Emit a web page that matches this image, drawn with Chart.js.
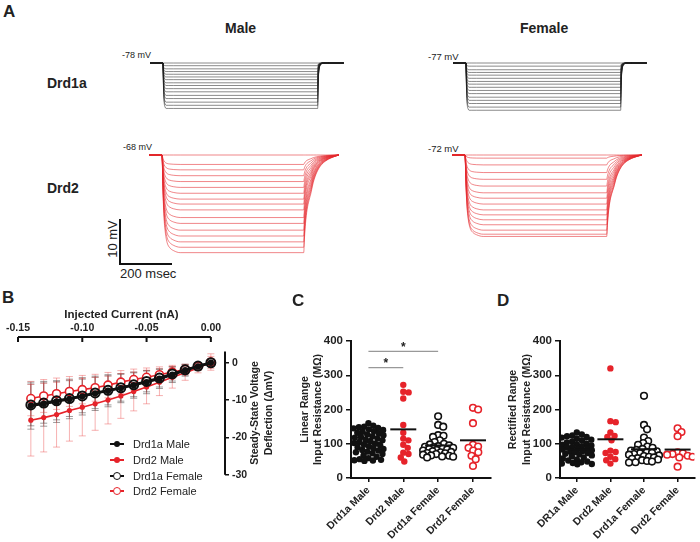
<!DOCTYPE html>
<html>
<head>
<meta charset="utf-8">
<script src="https://cdn.jsdelivr.net/npm/chart.js@4.4.1/dist/chart.umd.min.js"></script>
<style>
body { margin: 0; background: #fff; width: 700px; height: 542px; position: relative; overflow: hidden; font-family: "Liberation Sans", Arial, sans-serif; color: #222; }
canvas { position: absolute; }
.t { position: absolute; white-space: nowrap; line-height: 1; }
.b { font-weight: bold; }
.rot { transform: translate(-50%, -50%) rotate(-90deg); text-align: center; }
.bar { position: absolute; background: #111; }
.leg { position: absolute; left: 110px; height: 12px; width: 100px; }
.leg .ln { position: absolute; left: 0; top: 5px; width: 14px; height: 2px; }
.leg .pt { position: absolute; border-radius: 50%; box-sizing: border-box; }
.leg span { position: absolute; left: 23px; top: 0; font-size: 11px; line-height: 12px; }
</style>
</head>
<body>

<!-- panel A labels -->
<div class="t b" style="left:3px;top:3px;font-size:17px">A</div>
<div class="t b" style="left:225px;top:21px;font-size:14px">Male</div>
<div class="t b" style="left:520px;top:21px;font-size:14px">Female</div>
<div class="t b" style="left:47px;top:76px;font-size:14px">Drd1a</div>
<div class="t b" style="left:47px;top:181px;font-size:14px">Drd2</div>
<div class="t" style="left:122px;top:51px;font-size:9px">-78 mV</div>
<div class="t" style="left:428px;top:52px;font-size:9.5px">-77 mV</div>
<div class="t" style="left:123px;top:143px;font-size:9px">-68 mV</div>
<div class="t" style="left:428px;top:144px;font-size:9.5px">-72 mV</div>
<div class="t rot" style="left:111.5px;top:238.5px;font-size:13px">10 mV</div>
<div class="t" style="left:120px;top:267px;font-size:13px">200 msec</div>
<div class="bar" style="left:119px;top:219px;width:2px;height:46px"></div>
<div class="bar" style="left:119px;top:263px;width:53px;height:2px"></div>

<canvas id="a1" width="195" height="64" style="left:150px;top:54px"></canvas>
<canvas id="a2" width="195" height="64" style="left:453px;top:54px"></canvas>
<canvas id="a3" width="195" height="112" style="left:149px;top:146px"></canvas>
<canvas id="a4" width="195" height="112" style="left:452px;top:146px"></canvas>

<!-- panel B -->
<div class="t b" style="left:2px;top:289px;font-size:17px">B</div>
<canvas id="cb" width="255" height="189" style="left:0px;top:295px"></canvas>
<div class="t b rot" style="left:261px;top:413px;font-size:10.5px;line-height:14px">Steady-State Voltage<br>Deflection (&Delta;mV)</div>
<div class="leg" style="top:438px"><div class="ln" style="background:#111"></div><div class="pt" style="left:4px;top:3px;width:6px;height:6px;background:#111"></div><span>Drd1a Male</span></div>
<div class="leg" style="top:454px"><div class="ln" style="background:#e6232a"></div><div class="pt" style="left:4px;top:3px;width:6px;height:6px;background:#e6232a"></div><span>Drd2 Male</span></div>
<div class="leg" style="top:470px"><div class="ln" style="background:#111"></div><div class="pt" style="left:3px;top:2px;width:8px;height:8px;border:1.6px solid #111;background:#fff"></div><span>Drd1a Female</span></div>
<div class="leg" style="top:485px"><div class="ln" style="background:#e6232a"></div><div class="pt" style="left:3px;top:2px;width:8px;height:8px;border:1.6px solid #e6232a;background:#fff"></div><span>Drd2 Female</span></div>

<!-- panels C, D -->
<div class="t b" style="left:292px;top:292px;font-size:17px">C</div>
<div class="t b" style="left:497px;top:292px;font-size:17px">D</div>
<canvas id="cc" width="201" height="211" style="left:295px;top:331px"></canvas>
<canvas id="cd" width="198" height="211" style="left:502px;top:331px"></canvas>

<script>
// ---------- Panel A: representative voltage traces ----------
const d1Times = [0, 50, 51.5, 53, 55, 58, 62, 70, 90, 645, 646.5, 648, 651, 655, 661, 670, 685, 745];
const d1Shape = [0, 0, 0.45, 0.75, 0.9, 0.97, 1, 1, 1, 1, 0.55, 0.3, 0.12, 0.05, 0.01, 0, 0, 0];
const d2Times = [0, 50, 54, 58, 63, 70, 80, 95, 120, 595, 598, 602, 608, 615, 622, 632, 645, 660, 680, 700, 730];
const d2Shape = [0, 0, 0.4, 0.65, 0.8, 0.9, 0.95, 0.98, 1, 1, 0.85, 0.7, 0.56, 0.47, 0.4, 0.28, 0.18, 0.11, 0.06, 0.03, 0];

const d1MaleLevels = [0, -0.6, -1.3, -1.9, -2.5, -3.1, -3.7, -4.4, -5.0, -5.7, -6.4, -7.2, -7.9, -8.7, -9.4, -10.1];
const d1FemaleLevels = [0, -0.7, -1.5, -2.1, -2.7, -3.4, -4.1, -4.7, -5.4, -6.1, -6.8, -7.6, -8.3, -9.0, -9.8, -10.5];
const d2MaleLevels = [0, -2.1, -3.3, -4.6, -5.9, -7.2, -8.5, -9.8, -10.9, -12.2, -13.9, -15.2, -16.7, -18.0, -19.3, -20.5, -21.7];
const d2FemaleLevels = [0, -0.7, -2.2, -3.9, -5.4, -6.9, -8.4, -9.6, -10.9, -12.2, -13.3, -14.4, -15.5, -16.7, -17.6, -18.1];

// ---------- Panel B: I-V relationship ----------
const currents = [-0.14, -0.13, -0.12, -0.11, -0.10, -0.09, -0.08, -0.07, -0.06, -0.05, -0.04, -0.03, -0.02, -0.01, 0.00];
const d1MaleV = [-11.5, -11.0, -10.4, -9.7, -9.0, -8.2, -7.5, -6.8, -6.0, -5.2, -4.3, -3.2, -2.0, -1.0, 0];
const d1MaleErr = [6.3, 6.0, 5.6, 5.3, 5.0, 4.6, 4.3, 3.9, 3.5, 3.1, 2.6, 2.1, 1.6, 1.0, 0.6];
const d1FemaleV = [-11.3, -10.8, -10.2, -9.6, -8.9, -8.1, -7.4, -6.7, -5.9, -5.0, -4.1, -3.0, -1.9, -0.9, 0];
const d1FemaleErr = [5.6, 5.4, 5.1, 4.8, 4.5, 4.2, 3.9, 3.6, 3.2, 2.8, 2.4, 1.9, 1.4, 0.9, 0.6];
const d2MaleV = [-15.4, -14.7, -13.9, -12.8, -11.9, -11.0, -10.0, -8.9, -7.7, -6.5, -5.2, -3.9, -2.7, -1.4, 0.1];
const d2MaleErr = [9.6, 9.2, 8.7, 8.2, 7.7, 7.1, 6.4, 6.0, 5.2, 4.5, 3.6, 2.9, 2.0, 1.3, 1.6];
const d2FemaleV = [-9.6, -8.9, -8.3, -7.7, -7.2, -6.7, -6.0, -5.2, -4.5, -3.9, -3.2, -2.5, -1.8, -1.0, 0.2];
const d2FemaleErr = [4.6, 4.4, 4.2, 4.0, 3.8, 3.6, 3.4, 3.1, 2.8, 2.5, 2.1, 1.8, 1.4, 1.0, 2.2];
const currentTicks = [-0.15, -0.10, -0.05, 0.00];
const voltTicks = [0, -10, -20, -30];

// ---------- Panels C, D: input resistance (MOhm) ----------
const cLabels = ['Drd1a Male', 'Drd2 Male', 'Drd1a Female', 'Drd2 Female'];
const dLabels = ['DR1a Male', 'Drd2 Male', 'Drd1a Female', 'Drd2 Female'];
const cD1Male = [160, 153, 150, 148, 146, 145, 142, 140, 137, 135, 132, 130, 127, 125, 122, 120, 118, 115, 112, 110, 108, 105, 102, 100, 97, 95, 92, 90, 87, 85, 82, 80, 77, 75, 72, 70, 66, 62, 58, 55, 53, 52, 51, 50];
const cD2Male = [272, 252, 250, 232, 155, 132, 115, 110, 97, 88, 74, 70, 60, 48];
const cD1Female = [180, 155, 150, 125, 123, 120, 110, 105, 100, 98, 95, 93, 91, 90, 88, 86, 85, 83, 82, 80, 78, 76, 75, 73, 72, 70, 68, 66, 65, 63, 62, 60];
const cD2Female = [205, 200, 160, 97, 92, 88, 80, 75, 65, 55, 35];
const cMeans = [103, 142, 95, 110];
const cSig = [[0, 2, 370], [0, 1, 322]];
const dD1Male = [133, 127, 124, 122, 120, 118, 115, 112, 110, 107, 104, 101, 99, 97, 95, 93, 91, 89, 87, 85, 83, 81, 79, 77, 75, 73, 71, 69, 66, 63, 60, 57, 54, 51, 48, 46, 44, 42, 41, 40];
const dD2Male = [320, 166, 163, 133, 123, 120, 110, 80, 76, 73, 62, 55, 52, 42];
const dD1Female = [240, 155, 142, 118, 108, 102, 97, 92, 88, 85, 82, 80, 78, 76, 74, 72, 70, 68, 66, 64, 62, 60, 58, 56, 54, 52, 50, 48, 46, 45];
const dD2Female = [145, 134, 122, 75, 72, 70, 68, 65, 62, 60, 33];
const dMeans = [84, 113, 84, 83];

const RED = '#e6232a';
const INK = '#111';
const MS_PER_PX = 200 / 52;
const MV_PER_PX = 10 / 45;

Chart.defaults.font.family = '"Liberation Sans", Arial, sans-serif';
Chart.defaults.color = '#222';
Chart.defaults.animation = false;
Chart.defaults.events = [];
Chart.defaults.plugins.legend.display = false;
Chart.defaults.plugins.tooltip.enabled = false;

function traceChart(id, times, shape, levels, color, width) {
  const cv = document.getElementById(id);
  const ymax = 9 * MV_PER_PX;
  new Chart(cv, {
    type: 'line',
    data: {
      datasets: levels.map(L => ({
        data: times.map((t, i) => ({ x: t, y: L * shape[i] })),
        borderColor: color,
        borderWidth: width,
        pointRadius: 0,
        cubicInterpolationMode: 'monotone'
      }))
    },
    options: {
      responsive: false,
      layout: { padding: 0 },
      scales: {
        x: { type: 'linear', display: false, min: 0, max: cv.width * MS_PER_PX },
        y: { display: false, min: ymax - cv.height * MV_PER_PX, max: ymax }
      }
    }
  });
}

traceChart('a1', d1Times, d1Shape, d1MaleLevels, 'rgba(30,30,30,0.75)', 0.7);
traceChart('a2', d1Times, d1Shape, d1FemaleLevels, 'rgba(30,30,30,0.75)', 0.7);
traceChart('a3', d2Times, d2Shape, d2MaleLevels, 'rgba(228,40,45,0.7)', 0.8);
traceChart('a4', d2Times, d2Shape, d2FemaleLevels, 'rgba(228,40,45,0.7)', 0.8);

// ---------- Panel B chart ----------
const errorBars = {
  id: 'errorBars',
  beforeDatasetsDraw(chart) {
    const { ctx, scales: { x, y } } = chart;
    ctx.save();
    chart.data.datasets.forEach(ds => {
      ctx.strokeStyle = ds.errColor;
      ctx.lineWidth = 1;
      ds.data.forEach((p, i) => {
        const px = x.getPixelForValue(p.x);
        const lo = y.getPixelForValue(p.y - ds.err[i]);
        const hi = y.getPixelForValue(p.y + ds.err[i]);
        ctx.beginPath();
        ctx.moveTo(px, lo); ctx.lineTo(px, hi);
        ctx.moveTo(px - 3.5, lo); ctx.lineTo(px + 3.5, lo);
        ctx.moveTo(px - 3.5, hi); ctx.lineTo(px + 3.5, hi);
        ctx.stroke();
      });
    });
    ctx.restore();
  }
};

const ivAxes = {
  id: 'ivAxes',
  afterDraw(chart) {
    const { ctx, scales: { x, y }, chartArea } = chart;
    ctx.save();
    ctx.strokeStyle = INK;
    ctx.lineWidth = 2;
    ctx.beginPath();
    const top = chartArea.top;
    ctx.moveTo(x.getPixelForValue(currentTicks[0]), top);
    ctx.lineTo(x.getPixelForValue(currentTicks[currentTicks.length - 1]), top);
    currentTicks.forEach(v => {
      const px = x.getPixelForValue(v);
      ctx.moveTo(px, top); ctx.lineTo(px, top + 5);
    });
    ctx.moveTo(chartArea.right, y.getPixelForValue(3));
    ctx.lineTo(chartArea.right, y.getPixelForValue(voltTicks[voltTicks.length - 1]));
    ctx.stroke();
    ctx.restore();
  }
};

function ivSet(v, err, color, errColor, radius, fill, bw, lw) {
  return {
    data: currents.map((c, i) => ({ x: c, y: v[i] })),
    err: err,
    errColor: errColor,
    borderColor: color,
    borderWidth: lw,
    pointRadius: radius,
    pointBackgroundColor: fill,
    pointBorderColor: color,
    pointBorderWidth: bw
  };
}

new Chart(document.getElementById('cb'), {
  type: 'line',
  data: {
    datasets: [
      ivSet(d1FemaleV, d1FemaleErr, INK, 'rgba(60,60,60,0.5)', 4.5, 'rgba(0,0,0,0)', 2, 2.5),
      ivSet(d1MaleV, d1MaleErr, INK, 'rgba(60,60,60,0.5)', 3.2, INK, 0, 2.5),
      ivSet(d2FemaleV, d2FemaleErr, RED, 'rgba(232,60,60,0.4)', 4, '#fff', 1.6, 1.6),
      ivSet(d2MaleV, d2MaleErr, RED, 'rgba(232,60,60,0.4)', 2.6, RED, 0, 1.6)
    ]
  },
  options: {
    responsive: false,
    layout: { padding: { left: 18, top: 0, right: 0, bottom: 8 } },
    scales: {
      x: {
        type: 'linear', position: 'top', min: -0.15, max: 0.011,
        afterBuildTicks: s => { s.ticks = currentTicks.map(v => ({ value: v })); },
        afterFit: s => { s.height = 42; },
        grid: { display: false, drawTicks: false },
        border: { display: false },
        ticks: { autoSkip: false, maxRotation: 0, padding: 3, font: { size: 10.5, weight: 'bold' }, callback: v => v.toFixed(2) },
        title: { display: true, text: 'Injected Current (nA)', font: { size: 11.5, weight: 'bold' }, padding: { top: 13, bottom: 0 } }
      },
      y: {
        position: 'right', min: -30, max: 6.9,
        afterBuildTicks: s => { s.ticks = voltTicks.map(v => ({ value: v })); },
        afterFit: s => { s.width = 30; },
        grid: { drawOnChartArea: false, drawTicks: true, tickLength: 4, color: INK, lineWidth: 1.5 },
        border: { display: false },
        ticks: { padding: 3, font: { size: 10.5, weight: 'bold' } }
      }
    }
  },
  plugins: [errorBars, ivAxes]
});

// ---------- Panels C, D ----------
const groupStyle = [
  { fill: INK, stroke: INK, bw: 0, r: 3.2 },
  { fill: RED, stroke: RED, bw: 0, r: 3.2 },
  { fill: '#fff', stroke: INK, bw: 1.6, r: 3.3 },
  { fill: '#fff', stroke: RED, bw: 1.6, r: 3.3 }
];

function meanLines(means, sig) {
  return {
    id: 'meanLines',
    afterDatasetsDraw(chart) {
      const { ctx, scales: { x, y } } = chart;
      ctx.save();
      ctx.strokeStyle = INK;
      ctx.lineWidth = 2;
      means.forEach((m, i) => {
        const px = x.getPixelForValue(i), py = y.getPixelForValue(m);
        ctx.beginPath();
        ctx.moveTo(px - 13, py); ctx.lineTo(px + 13, py);
        ctx.stroke();
      });
      ctx.strokeStyle = '#999';
      ctx.lineWidth = 1.2;
      ctx.fillStyle = '#222';
      ctx.font = 'bold 12px "Liberation Sans", Arial, sans-serif';
      ctx.textAlign = 'center';
      ctx.textBaseline = 'middle';
      sig.forEach(([a, b, v]) => {
        const x1 = x.getPixelForValue(a), x2 = x.getPixelForValue(b), py = y.getPixelForValue(v);
        ctx.beginPath();
        ctx.moveTo(x1, py); ctx.lineTo(x2, py);
        ctx.stroke();
        ctx.fillText('*', (x1 + x2) / 2, py - 4);
      });
      ctx.restore();
    }
  };
}

// spread overlapping dots sideways (layout only, values untouched)
function swarm(chart, groups) {
  const xs = chart.scales.x, ys = chart.scales.y;
  const unit = xs.getPixelForValue(1) - xs.getPixelForValue(0);
  const D = 5.4, MAXOFF = 15;
  groups.forEach((vals, g) => {
    const placed = [];
    const pts = vals.map(v => {
      const py = ys.getPixelForValue(v);
      const near = placed.filter(p => Math.abs(p.y - py) < D);
      const cands = [0];
      near.forEach(p => {
        const dx = Math.sqrt(D * D - (p.y - py) * (p.y - py));
        cands.push(p.x + dx, p.x - dx);
      });
      cands.sort((a, b) => Math.abs(a) - Math.abs(b));
      let off = cands.find(c => Math.abs(c) <= MAXOFF &&
        near.every(p => (p.x - c) ** 2 + (p.y - py) ** 2 >= D * D - 0.01));
      if (off === undefined) {
        let best = -1;
        for (let c = -MAXOFF; c <= MAXOFF; c += 0.5) {
          const md = Math.min(...near.map(p => Math.hypot(p.x - c, p.y - py)));
          if (md > best) { best = md; off = c; }
        }
      }
      placed.push({ x: off, y: py });
      return { x: g + off / unit, y: v };
    });
    chart.data.datasets[g].data = pts;
  });
  chart.update('none');
}

function dotChart(id, groups, means, labels, title, titleLH, axisW, sig) {
  const chart = new Chart(document.getElementById(id), {
    type: 'scatter',
    data: {
      datasets: groups.map((vals, g) => ({
        data: vals.map(v => ({ x: g, y: v })),
        pointRadius: groupStyle[g].r,
        pointBackgroundColor: groupStyle[g].fill,
        pointBorderColor: groupStyle[g].stroke,
        pointBorderWidth: groupStyle[g].bw
      }))
    },
    options: {
      responsive: false,
      layout: { padding: { left: 4, top: 10, right: id === 'cc' ? 4 : 0, bottom: 0 } },
      scales: {
        x: {
          type: 'linear', min: -0.5, max: 3.5,
          afterBuildTicks: s => { s.ticks = labels.map((l, i) => ({ value: i })); },
          afterFit: s => { s.height = 64; },
          grid: { drawOnChartArea: false, drawTicks: true, tickLength: 4, color: INK, lineWidth: 1.5 },
          border: { color: INK, width: 2 },
          ticks: { autoSkip: false, minRotation: 45, maxRotation: 45, padding: 2, font: { size: 10.5, weight: 'bold' }, callback: (v, i) => labels[i] }
        },
        y: {
          min: 0, max: 400,
          afterFit: s => { s.width = axisW; },
          grid: { drawOnChartArea: false, drawTicks: true, tickLength: 5, color: INK, lineWidth: 1.5 },
          border: { color: INK, width: 2 },
          ticks: { stepSize: 100, padding: 3, font: { size: 11.5, weight: 'bold' } },
          title: { display: true, text: title, font: { size: 10.5, weight: 'bold', lineHeight: titleLH }, padding: 0 }
        }
      }
    },
    plugins: [meanLines(means, sig)]
  });
  swarm(chart, groups);
}

dotChart('cc', [cD1Male, cD2Male, cD1Female, cD2Female], cMeans, cLabels,
  ['Linear Range', 'Input Resistance (M\u03a9)'], '13px', 52, cSig);
dotChart('cd', [dD1Male, dD2Male, dD1Female, dD2Female], dMeans, dLabels,
  ['Rectified Range', 'Input Resistance (M\u03a9)'], '14px', 54, []);
</script>
</body>
</html>
